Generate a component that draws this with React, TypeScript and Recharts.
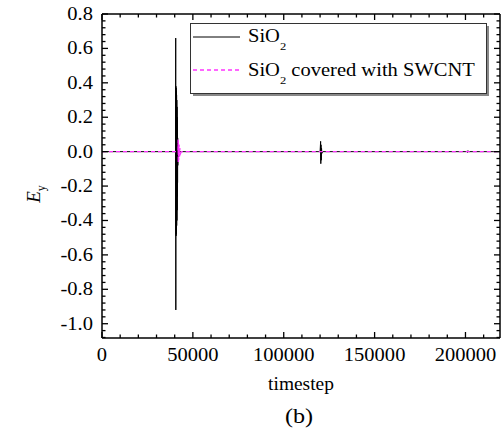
import React from "react";
import { LineChart, Line, XAxis, YAxis, Legend } from "recharts";

const FONT = '"Liberation Serif", "Times New Roman", serif';
const SX = 1.14;

// SiO2 (solid black)
const sio2Steps = [
  0, 40000, 40500, 40560, 40620, 40680, 40740, 40800, 40860, 40920, 40980, 41040, 41100, 41160, 41220,
  41280, 41340, 41400, 41460, 41520, 41580, 41640, 41700, 41900,
  120000, 120300, 120400, 120500, 120600, 120800, 121000, 121500,
  200500, 201000, 201200, 201600, 202000, 219000,
];
const sio2Ey = [
  0, 0, 0, 0.66, -0.92, 0.38, -0.49, 0.37, -0.48, 0.35, -0.46, 0.33, -0.43, 0.3, -0.4,
  0.26, -0.34, 0.2, -0.26, 0.14, -0.18, 0.08, -0.08, 0,
  0, 0.06, -0.07, 0.04, -0.05, 0.02, -0.01, 0,
  0, 0.005, -0.005, 0.004, 0, 0,
];

// SiO2 covered with SWCNT (magenta dashed)
const swcntSteps = [0, 41800, 41900, 42000, 42100, 42200, 42400, 42600, 42800, 43200, 43600, 219000];
const swcntEy = [0, 0, 0.07, -0.065, 0.05, -0.05, 0.04, -0.03, 0.02, -0.01, 0, 0];

const seriesNames = ["SiO", "SiO"];
const seriesSuffix = ["", " covered with SWCNT"];

const xMajor = [0, 50000, 100000, 150000, 200000];
const yMajor = [0.8, 0.6, 0.4, 0.2, 0.0, -0.2, -0.4, -0.6, -0.8, -1.0];

const xDomain = [0, 219000];
const yDomain = [-1.083, 0.8];

const xTicks: number[] = [];
for (let t = 0; t <= xDomain[1]; t += 10000) xTicks.push(t);
const yTicks: number[] = [];
for (let k = -27; k <= 20; k++) yTicks.push(Math.round(k * 4) / 100);

const sio2Data = sio2Steps.map((t, i) => ({ t, v: sio2Ey[i] }));
const swcntData = swcntSteps.map((t, i) => ({ t, v: swcntEy[i] }));

const isXMajor = (v: number) => xMajor.includes(v);
const isYMajor = (v: number) => yMajor.some((m) => Math.abs(m - v) < 1e-6);

const TICK = { stroke: "#000", strokeWidth: 1.3 };
const MAGENTA = "#ff33ff";

function BottomTick({ x, y, payload }: any) {
  const major = isXMajor(payload.value);
  return (
    <g>
      <line x1={x} x2={x} y1={y} y2={y - (major ? 6 : 3.5)} {...TICK} />
      {major && (
        <text transform={`translate(${x},${y + 23}) scale(${SX},1)`} textAnchor="middle"
          fontSize={18} fontFamily={FONT} fill="#000">
          {payload.value}
        </text>
      )}
    </g>
  );
}

function TopTick({ x, y, payload }: any) {
  const major = isXMajor(payload.value);
  return <line x1={x} x2={x} y1={y} y2={y + (major ? 6 : 3.5)} {...TICK} />;
}

function LeftTick({ x, y, payload }: any) {
  const major = isYMajor(payload.value);
  return (
    <g>
      <line x1={x} x2={x + (major ? 6 : 3.5)} y1={y} y2={y} {...TICK} />
      {major && (
        <text transform={`translate(${x - 9},${y + 6}) scale(${SX},1)`} textAnchor="end"
          fontSize={18} fontFamily={FONT} fill="#000">
          {payload.value.toFixed(1)}
        </text>
      )}
    </g>
  );
}

function RightTick({ x, y, payload }: any) {
  const major = isYMajor(payload.value);
  return <line x1={x} x2={x - (major ? 6 : 3.5)} y1={y} y2={y} {...TICK} />;
}

function LegendBox() {
  return (
    <svg width={300} height={74} style={{ display: "block" }}>
      <rect x={3} y={3} width={296} height={70} fill="#888" />
      <rect x={0.5} y={0.5} width={296} height={70} fill="#fff" stroke="#333" strokeWidth={1} />
      <line x1={3} x2={50} y1={14} y2={14} stroke="#000" strokeWidth={1} />
      <line x1={3} x2={50} y1={47} y2={47} stroke={MAGENTA} strokeWidth={1.4} strokeDasharray="4 3" />
      {[18.7, 53].map((base, i) => (
        <text key={i} transform={`translate(58,${base}) scale(${SX},1)`} fontSize={18} fontFamily={FONT} fill="#000">
          {seriesNames[i]}
          <tspan fontSize={11} dy={8}>2</tspan>
          <tspan dy={-8}>{seriesSuffix[i]}</tspan>
        </text>
      ))}
    </svg>
  );
}

export default function App() {
  return (
    <div style={{ position: "absolute", left: 0, top: 0, background: "#fff" }}>
      <LineChart width={502} height={435} margin={{ top: 13, right: 1, bottom: 96, left: 101 }}>
        <XAxis xAxisId="b" dataKey="t" type="number" domain={xDomain} allowDataOverflow
          ticks={xTicks} interval={0} height={1} tickSize={0} tickMargin={0} tickLine={false}
          axisLine={{ stroke: "#000", strokeWidth: 1.5 }} tick={<BottomTick />}
          label={{
            content: () => (
              <text transform={`translate(301,390) scale(1.08,1)`} textAnchor="middle"
                fontSize={18} fontFamily={FONT} fill="#000">timestep</text>
            ),
          }} />
        <XAxis xAxisId="t" orientation="top" dataKey="t" type="number" domain={xDomain} allowDataOverflow
          ticks={xTicks} interval={0} height={1} tickSize={0} tickMargin={0} tickLine={false}
          axisLine={{ stroke: "#000", strokeWidth: 1.5 }} tick={<TopTick />}
          label={{
            content: () => (
              <text transform={`translate(299,423) scale(1.15,1)`} textAnchor="middle"
                fontSize={21} fontFamily={FONT} fill="#000">(b)</text>
            ),
          }} />
        <YAxis yAxisId="l" type="number" domain={yDomain} allowDataOverflow
          ticks={yTicks} interval={0} width={1} tickSize={0} tickMargin={0} tickLine={false}
          axisLine={{ stroke: "#000", strokeWidth: 1.5 }} tick={<LeftTick />}
          label={{
            content: () => (
              <text transform="translate(40,194) rotate(-90)" textAnchor="middle"
                fontSize={19} fontFamily={FONT} fill="#000">
                <tspan fontStyle="italic">E</tspan>
                <tspan fontSize={12} dy={5}>y</tspan>
              </text>
            ),
          }} />
        <YAxis yAxisId="r" orientation="right" type="number" domain={yDomain} allowDataOverflow
          ticks={yTicks} interval={0} width={1} tickSize={0} tickMargin={0} tickLine={false}
          axisLine={{ stroke: "#000", strokeWidth: 1.5 }} tick={<RightTick />} />
        <Legend layout="horizontal" verticalAlign="middle" align="center"
          wrapperStyle={{ left: 190, top: 23, width: 300, height: 74 }}
          content={() => <LegendBox />} />
        <Line xAxisId="b" yAxisId="l" data={sio2Data} dataKey="v" type="linear" stroke="#000"
          strokeWidth={1} dot={false} isAnimationActive={false} />
        <Line xAxisId="b" yAxisId="l" data={swcntData} dataKey="v" type="linear" stroke={MAGENTA}
          strokeWidth={1.4} strokeDasharray="4 3" dot={false} isAnimationActive={false} />
      </LineChart>
    </div>
  );
}
